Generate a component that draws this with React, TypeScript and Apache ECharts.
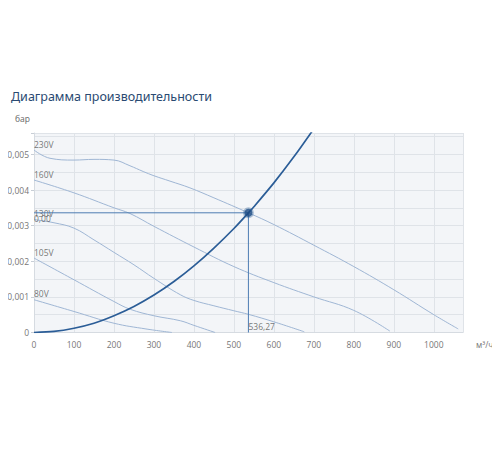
import React, { useEffect, useRef } from "react";
import * as echarts from "echarts";

const TITLE = "Диаграмма производительности";
const Y_NAME = "бар";
const X_NAME = "м³/ч";

const fan230: [number, number][] = [
  [0, 0.00512], [40, 0.00489], [100, 0.00484], [150, 0.00486], [200, 0.00484],
  [240, 0.00468], [273, 0.00452], [300, 0.0044], [340, 0.00425], [390, 0.00406],
  [450, 0.00378], [536.27, 0.00336], [600, 0.00303], [700, 0.00245], [800, 0.00185],
  [900, 0.0012], [1000, 0.0005], [1061, 0.0001],
];
const fan160: [number, number][] = [
  [0, 0.00428], [100, 0.00392], [200, 0.0035], [240, 0.00334], [300, 0.00298],
  [400, 0.0024], [500, 0.00185], [600, 0.0014], [700, 0.001], [800, 0.00062], [890, 0.00004],
];
const fan130: [number, number][] = [
  [0, 0.00317], [50, 0.00308], [100, 0.00293], [150, 0.0026], [200, 0.00225],
  [250, 0.0019], [300, 0.00152], [366, 0.00106], [400, 0.0009], [450, 0.00075],
  [500, 0.00061], [536.27, 0.00051], [600, 0.0003], [676, 0.00002],
];
const fan105: [number, number][] = [
  [0, 0.00209], [100, 0.00148], [200, 0.00087], [241, 0.00065], [300, 0.00047],
  [366, 0.00033], [400, 0.0002], [453, 0.0],
];
const fan80: [number, number][] = [
  [0, 0.00092], [100, 0.00059], [200, 0.00026], [280, 0.0001], [345, 0.0],
];
const systemCurve: [number, number][] = [
  [0, 0], [50, 0.00003], [100, 0.00012], [150, 0.00026], [200, 0.00047], [250, 0.00073],
  [300, 0.00105], [350, 0.00143], [400, 0.00187], [450, 0.00237], [500, 0.00292],
  [536.27, 0.00336], [550, 0.00353], [600, 0.0042], [650, 0.00493], [700, 0.00572],
];
const fanNames = ["230V", "160V", "130V", "105V", "80V"];
const fanData = [fan230, fan160, fan130, fan105, fan80];

const opX = 536.27;
const opY = 0.00336;
const opXLabel = "536,27";
const opYLabel = "0,00";

const X_MAX = 1073;
const Y_MAX = 0.0056;

export default function App() {
  const ref = useRef<HTMLDivElement>(null);
  useEffect(() => {
    if (!ref.current) return;
    const chart = echarts.init(ref.current, null, { renderer: "svg" });
    const font = "'Open Sans', 'Noto Sans', sans-serif";
    const lineColor = "#9fb6d4";
    const sysColor = "#2b5d97";
    const series: any[] = [];
    fanData.forEach((d, i) => {
      series.push({
        type: "line",
        name: fanNames[i],
        data: d,
        smooth: 0.4,
        showSymbol: false,
        lineStyle: { color: lineColor, width: 1 },
        z: 2,
      });
    });
    series.push({
      type: "scatter",
      name: "labels",
      data: fanData.map((d, i) => [d[0][0], d[0][1], fanNames[i]]),
      symbolSize: 1,
      itemStyle: { color: "rgba(0,0,0,0)" },
      label: {
        show: true,
        position: "top",
        align: "left",
        distance: 1,
        formatter: (p: any) => p.data[2],
        color: "#555",
        fontSize: 8.5,
        fontFamily: font,
      },
      z: 3,
    });
    series.push({
      type: "line",
      name: "crossH",
      data: [[0, opY], [opX, opY]],
      showSymbol: false,
      lineStyle: { color: "#4d7db3", width: 1 },
      z: 4,
    });
    series.push({
      type: "line",
      name: "crossV",
      data: [[opX, opY], [opX, 0]],
      showSymbol: false,
      lineStyle: { color: "#4d7db3", width: 1 },
      z: 4,
    });
    series.push({
      type: "line",
      name: "system",
      data: systemCurve,
      smooth: 0.3,
      showSymbol: false,
      clip: true,
      lineStyle: { color: sysColor, width: 1.7 },
      z: 5,
    });
    series.push({
      type: "scatter",
      name: "opLabels",
      data: [
        { value: [0, opY], label: { position: "bottom", formatter: opYLabel } },
        { value: [opX, 0], label: { position: "top", formatter: opXLabel } },
      ],
      symbolSize: 1,
      itemStyle: { color: "rgba(0,0,0,0)" },
      label: {
        show: true,
        align: "left",
        distance: 1,
        color: "#555",
        fontSize: 8.5,
        fontFamily: font,
      },
      z: 6,
    });
    series.push({
      type: "scatter",
      name: "point",
      data: [[opX, opY]],
      symbolSize: 8,
      itemStyle: { color: "#1d4a82", borderColor: "rgba(43,93,151,0.45)", borderWidth: 3 },
      z: 7,
    });

    chart.setOption({
      animation: false,
      textStyle: { fontFamily: font },
      title: {
        text: TITLE,
        left: 6,
        top: 85,
        textStyle: { fontSize: 12.5, fontWeight: "normal", color: "#2a4a72", fontFamily: "'Noto Sans', 'Open Sans', sans-serif" },
      },
      grid: {
        left: 34,
        right: 37,
        top: 133,
        bottom: 117.5,
        show: true,
        backgroundColor: "#f3f5f8",
        borderWidth: 0,
      },
      xAxis: {
        type: "value",
        min: 0,
        max: X_MAX,
        interval: 100,
        name: X_NAME,
        nameLocation: "end",
        nameGap: 13,
        nameTextStyle: { color: "#777", fontSize: 8.5, verticalAlign: "top", padding: [7, 0, 0, 0] },
        axisLine: { show: true, lineStyle: { color: "#d6dbe1" } },
        axisTick: { show: false },
        axisLabel: {
          color: "#777",
          fontSize: 8.5,
          margin: 7,
          formatter: (v: number) => (Math.abs(v % 100) < 1e-6 ? String(v) : ""),
        },
        splitLine: { show: true, lineStyle: { color: "#dfe3e8", width: 1 } },
      },
      yAxis: [
        {
          type: "value",
          min: 0,
          max: Y_MAX,
          interval: 0.001,
          name: Y_NAME,
          nameLocation: "end",
          nameGap: 10,
          nameTextStyle: { color: "#666", fontSize: 8.5, align: "right", padding: [0, 4, 0, 0] },
          axisLine: { show: true, lineStyle: { color: "#d6dbe1" } },
          axisTick: { show: true, length: 3, lineStyle: { color: "#c8ced6" } },
          axisLabel: {
            color: "#777",
            fontSize: 8.5,
            margin: 5,
            formatter: (v: number) => {
              const k = Math.round(v * 1000);
              if (Math.abs(v * 1000 - k) > 1e-6) return "";
              return k === 0 ? "0" : "0,00" + k;
            },
          },
          splitLine: { show: false },
        },
        {
          type: "value",
          min: 0,
          max: Y_MAX,
          interval: 0.0005,
          position: "left",
          axisLine: { show: false },
          axisTick: { show: false },
          axisLabel: { show: false },
          splitLine: { show: true, lineStyle: { color: "#dfe3e8", width: 1 } },
        },
      ],
      series,
    });
    return () => chart.dispose();
  }, []);
  return <div ref={ref} style={{ width: 500, height: 450, marginLeft: -8, marginTop: -8 }} />;
}
